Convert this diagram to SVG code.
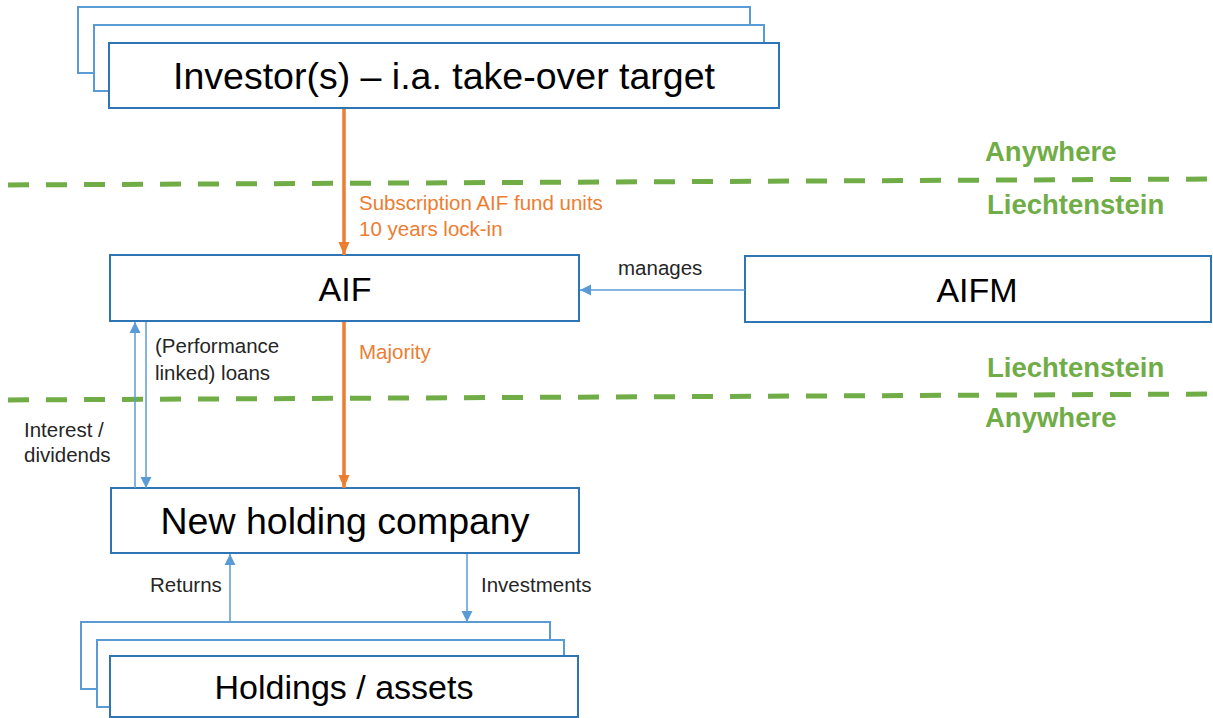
<svg xmlns="http://www.w3.org/2000/svg" width="1213" height="718" viewBox="0 0 1213 718">
<style>
.bk{fill:#fff;stroke:#5B9BD5;stroke-width:2}
.fr{fill:#fff;stroke:#2E75B6;stroke-width:2}
.big{font-family:"Liberation Sans",Arial,sans-serif;font-size:37.5px;fill:#000;text-anchor:middle}
.mid{font-family:"Liberation Sans",Arial,sans-serif;font-size:34px;fill:#000;text-anchor:middle}
.lbl{font-family:"Liberation Sans",Arial,sans-serif;font-size:20.5px;fill:#262626}
.org{font-family:"Liberation Sans",Arial,sans-serif;font-size:20.5px;fill:#ED7D31}
.zone{font-family:"Liberation Sans",Arial,sans-serif;font-size:27.5px;font-weight:bold;fill:#70AD47}
.blue{stroke:#5B9BD5;stroke-width:1.5;fill:none}
.orange{stroke:#ED7D31;stroke-width:3.5;fill:none}
.dash{stroke:#70AD47;stroke-width:5;stroke-dasharray:21 17;stroke-dashoffset:30;fill:none}
</style>
<defs>
<marker id="ab" markerUnits="userSpaceOnUse" markerWidth="12" markerHeight="12" refX="11" refY="6" orient="auto"><path d="M0,0.5 L11,6 L0,11.5 z" fill="#5B9BD5"/></marker>
<marker id="ao" markerUnits="userSpaceOnUse" markerWidth="14" markerHeight="12" refX="13" refY="6" orient="auto"><path d="M0,0.5 L13,6 L0,11.5 z" fill="#ED7D31"/></marker>
</defs>
<rect width="1213" height="718" fill="#fff"/>
<g id="zones">
<line class="dash" x1="0" y1="185" x2="1213" y2="179"/>
<line class="dash" x1="0" y1="400" x2="1213" y2="394"/>
<text class="zone" x="985" y="161">Anywhere</text>
<text class="zone" x="987" y="214">Liechtenstein</text>
<text class="zone" x="987" y="377">Liechtenstein</text>
<text class="zone" x="985" y="427">Anywhere</text>
</g>
<g id="investors">
<rect class="bk" x="78" y="7" width="672" height="66"/>
<rect class="bk" x="94" y="25" width="670" height="66"/>
<rect class="fr" x="109" y="43" width="670" height="65"/>
<text class="big" x="444" y="89">Investor(s) – i.a. take-over target</text>
</g>
<g id="aif">
<rect class="fr" x="110" y="255" width="469" height="66"/>
<text class="mid" x="345" y="301">AIF</text>
</g>
<g id="aifm">
<rect class="fr" x="745" y="256" width="466" height="66"/>
<text class="mid" x="977" y="302">AIFM</text>
</g>
<g id="newholding">
<rect class="fr" x="111" y="488" width="468" height="65"/>
<text class="big" x="345" y="534">New holding company</text>
</g>
<g id="holdings">
<rect class="bk" x="81" y="622" width="469" height="67"/>
<rect class="bk" x="97" y="640" width="467" height="67"/>
<rect class="fr" x="110" y="656" width="468" height="61"/>
<text class="mid" x="344" y="699">Holdings / assets</text>
</g>
<g id="connectors">
<line class="orange" x1="344" y1="109" x2="344" y2="255" marker-end="url(#ao)"/>
<line class="orange" x1="344" y1="322" x2="344" y2="488" marker-end="url(#ao)"/>
<line class="blue" x1="745" y1="290" x2="580" y2="290" marker-end="url(#ab)"/>
<line class="blue" x1="135" y1="488" x2="135" y2="322" marker-end="url(#ab)"/>
<line class="blue" x1="146" y1="322" x2="146" y2="488" marker-end="url(#ab)"/>
<line class="blue" x1="230" y1="622" x2="230" y2="554" marker-end="url(#ab)"/>
<line class="blue" x1="467" y1="554" x2="467" y2="622" marker-end="url(#ab)"/>
<text class="org" x="359" y="210">Subscription AIF fund units</text>
<text class="org" x="359" y="236">10 years lock-in</text>
<text class="org" x="359" y="359">Majority</text>
<text class="lbl" x="618" y="275">manages</text>
<text class="lbl" x="155" y="353">(Performance</text>
<text class="lbl" x="155" y="380">linked) loans</text>
<text class="lbl" x="24" y="437">Interest /</text>
<text class="lbl" x="24" y="462">dividends</text>
<text class="lbl" x="150" y="592">Returns</text>
<text class="lbl" x="481" y="592">Investments</text>
</g>
</svg>
